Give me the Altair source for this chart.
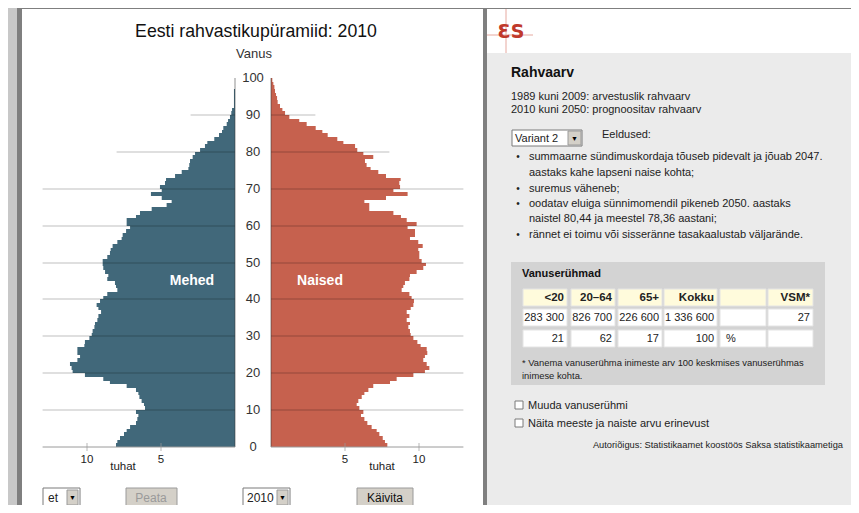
import altair as alt
import pandas as pd

# ---------------- data ----------------
ages = list(range(0, 101))
male = [8.04, 7.95, 7.77, 7.50, 7.32, 7.09, 6.69, 6.60, 6.53, 6.69,
        6.08, 6.15, 6.31, 6.46, 6.53, 6.69, 7.32, 8.45, 8.90, 10.14,
        10.97, 11.04, 11.15, 10.65, 10.47, 10.65, 10.65, 10.18, 10.14, 9.84,
        9.68, 9.62, 9.50, 9.46, 9.30, 9.23, 9.05, 9.23, 9.35, 9.12,
        8.90, 8.63, 7.95, 8.04, 8.11, 8.63, 8.56, 8.78, 8.90, 8.94,
        8.94, 8.63, 8.45, 8.40, 8.27, 7.95, 7.66, 7.59, 7.36, 7.09,
        7.32, 7.32, 6.69, 6.42, 5.63, 4.62, 4.28, 4.95, 5.68, 4.95,
        5.07, 4.73, 4.66, 4.05, 3.60, 3.15, 3.09, 3.04, 2.86, 2.70,
        2.36, 2.03, 1.87, 1.40, 1.08, 0.88, 0.79, 0.56, 0.47, 0.34,
        0.25, 0.20, 0.07, 0.07, 0.07, 0.07, 0.07, 0.0, 0.0, 0.0, 0.0]
female = [7.86, 7.70, 7.55, 7.32, 7.14, 6.80, 6.51, 6.31, 6.08, 6.24,
          5.97, 5.79, 5.90, 6.13, 6.31, 6.58, 6.91, 8.04, 8.49, 9.62,
          10.40, 10.70, 10.52, 10.29, 10.40, 10.56, 10.52, 10.11, 9.89, 9.62,
          9.44, 9.39, 9.28, 9.39, 9.17, 9.35, 9.17, 9.44, 9.62, 9.66,
          9.50, 9.35, 8.83, 8.94, 9.05, 9.35, 9.39, 9.84, 10.29, 10.47,
          10.18, 10.02, 10.02, 9.95, 10.25, 9.95, 9.39, 9.73, 9.73, 9.23,
          9.84, 9.17, 8.78, 8.27, 6.64, 6.64, 6.31, 7.77, 9.23, 8.27,
          8.72, 8.67, 8.76, 7.77, 7.25, 6.73, 6.46, 6.35, 6.91, 6.24,
          5.83, 5.68, 4.89, 4.48, 3.83, 3.47, 3.02, 2.41, 1.91, 1.24,
          0.95, 0.77, 0.61, 0.45, 0.41, 0.34, 0.27, 0.23, 0.16, 0.09, 0.0]

grid_ages = [10, 20, 30, 40, 50, 60, 70, 80, 90]
grid_len = [13, 13, 13, 13, 13, 13, 13, 8, 3]
age_labels = [0, 10, 20, 30, 40, 50, 60, 70, 80, 90, 100]
x_ticks = [5, 10]

title = "Eesti rahvastikupüramiid: 2010"

groups_head = ["<20", "20–64", "65+", "Kokku", "", "VSM*"]
groups_abs = ["283 300", "826 700", "226 600", "1 336 600", "", "27"]
groups_pct = ["21", "62", "17", "100", "%", ""]

# ---------------- frames ----------------
pyr = pd.DataFrame({"age": ages, "top": [a + 1 for a in ages],
                    "male": male, "female": female, "zero": 0})
grid = pd.DataFrame({"age": grid_ages, "len": grid_len, "zero": 0})
alab = pd.DataFrame({"age": age_labels, "lab": [str(a) for a in age_labels]})
ticks = pd.DataFrame({"v": x_ticks, "lab": [str(v) for v in x_ticks]})
axis_rng = pd.DataFrame({"a0": [0], "a1": [100], "zero": [0], "full": [13]})
one = pd.DataFrame({"k": [0]})

O = 8  # page margin offset
FONT = "Liberation Sans"
MALE_C = "#41687a"
FEMALE_C = "#c6614e"

ysc = alt.Scale(domain=[0, 100], range=[447 - O, 78 - O], round=True)
msc = alt.Scale(domain=[0, 13], range=[235 - O, 235 - O - 14.8 * 13])
fsc = alt.Scale(domain=[0, 13], range=[271 - O, 271 - O + 14.8 * 13])


def box(x1, y1, x2, y2, fill, stroke=None, sw=1):
    kw = dict(fill=fill)
    if stroke:
        kw.update(stroke=stroke, strokeWidth=sw)
    else:
        kw.update(strokeWidth=0)
    return alt.Chart(one).mark_rect(**kw).encode(
        x=alt.value(x1 - O), x2=alt.value(x2 - O),
        y=alt.value(y1 - O), y2=alt.value(y2 - O))


def hline(x1, x2, y, color, w=1):
    return alt.Chart(one).mark_rule(color=color, strokeWidth=w).encode(
        x=alt.value(x1 - O), x2=alt.value(x2 - O), y=alt.value(y - O))


def vline(x, y1, y2, color, w=1):
    return alt.Chart(one).mark_rule(color=color, strokeWidth=w).encode(
        x=alt.value(x - O), y=alt.value(y1 - O), y2=alt.value(y2 - O))


def txt(x, y, s, size=12, weight="normal", align="left", color="#222",
        font=FONT):
    return alt.Chart(one).mark_text(
        text=s, fontSize=size, fontWeight=weight, align=align,
        baseline="middle", color=color, font=font).encode(
        x=alt.value(x - O), y=alt.value(y - O))


layers = []

# ---------------- page frame ----------------
layers += [
    box(0, 0, 870, 520, "#c8c8c8"),
    box(17, 4, 870, 9, "#7f7f7f"),
    box(17, 4, 22, 520, "#7f7f7f"),
    box(22, 9, 483, 520, "#ffffff"),
    box(483, 4, 487, 520, "#7f7f7f"),
    box(487, 9, 870, 53, "#ffffff"),
    box(487, 53, 870, 520, "#ebebeb"),
]

# ---------------- pyramid ----------------
male_bars = alt.Chart(pyr).mark_rect(color=MALE_C, strokeWidth=0).encode(
    x=alt.X("male:Q", scale=msc, axis=None),
    x2="zero:Q",
    y=alt.Y("age:Q", scale=ysc, axis=None),
    y2="top:Q")
female_bars = alt.Chart(pyr).mark_rect(color=FEMALE_C, strokeWidth=0).encode(
    x=alt.X("female:Q", scale=fsc, axis=None),
    x2="zero:Q",
    y=alt.Y("age:Q", scale=ysc, axis=None),
    y2="top:Q")

male_grid = alt.Chart(grid).mark_rule(color="#000000", opacity=0.25).encode(
    x=alt.X("len:Q", scale=msc, axis=None), x2="zero:Q",
    y=alt.Y("age:Q", scale=ysc, axis=None))
female_grid = alt.Chart(grid).mark_rule(color="#000000", opacity=0.25).encode(
    x=alt.X("len:Q", scale=fsc, axis=None), x2="zero:Q",
    y=alt.Y("age:Q", scale=ysc, axis=None))

male_vax = alt.Chart(axis_rng).mark_rule(color="#333333", opacity=0.55).encode(
    x=alt.X("zero:Q", scale=msc, axis=None),
    y=alt.Y("a0:Q", scale=ysc, axis=None), y2="a1:Q")
female_vax = alt.Chart(axis_rng).mark_rule(color="#333333", opacity=0.55).encode(
    x=alt.X("zero:Q", scale=fsc, axis=None),
    y=alt.Y("a0:Q", scale=ysc, axis=None), y2="a1:Q")

male_hax = alt.Chart(axis_rng).mark_rule(color="#9a9a9a").encode(
    x=alt.X("full:Q", scale=msc, axis=None), x2="zero:Q",
    y=alt.Y("a0:Q", scale=ysc, axis=None))
female_hax = alt.Chart(axis_rng).mark_rule(color="#9a9a9a").encode(
    x=alt.X("full:Q", scale=fsc, axis=None), x2="zero:Q",
    y=alt.Y("a0:Q", scale=ysc, axis=None))

male_ticks = alt.Chart(ticks).mark_tick(color="#9a9a9a", orient="vertical",
                                        size=8, thickness=1).encode(
    x=alt.X("v:Q", scale=msc, axis=None), y=alt.value(447 - O))
female_ticks = alt.Chart(ticks).mark_tick(color="#9a9a9a", orient="vertical",
                                          size=8, thickness=1).encode(
    x=alt.X("v:Q", scale=fsc, axis=None), y=alt.value(447 - O))

male_tlab = alt.Chart(ticks).mark_text(font=FONT, fontSize=11.5, color="#222",
                                       baseline="middle").encode(
    x=alt.X("v:Q", scale=msc, axis=None), y=alt.value(460 - O), text="lab:N")
female_tlab = alt.Chart(ticks).mark_text(font=FONT, fontSize=11.5, color="#222",
                                         baseline="middle").encode(
    x=alt.X("v:Q", scale=fsc, axis=None), y=alt.value(460 - O), text="lab:N")

age_text = alt.Chart(alab).mark_text(font=FONT, fontSize=13, color="#333",
                                     baseline="middle").encode(
    x=alt.value(253 - O), y=alt.Y("age:Q", scale=ysc, axis=None),
    text="lab:N")

layers += [male_bars, female_bars, male_grid, female_grid, male_vax,
           female_vax, male_hax, female_hax, male_ticks, female_ticks,
           male_tlab, female_tlab, age_text]

layers += [
    txt(256, 32, title, size=17.7, align="center", color="#111"),
    txt(254, 54, "Vanus", size=13, align="center", color="#333"),
    txt(192, 281, "Mehed", size=14, weight="bold", align="center",
        color="#ffffff"),
    txt(320, 281, "Naised", size=14, weight="bold", align="center",
        color="#ffffff"),
    txt(123, 467, "tuhat", size=11.5, align="center"),
    txt(382, 467, "tuhat", size=11.5, align="center"),
]

# bottom controls
layers += [
    box(43, 488, 80, 507, "#ffffff", "#7a7a7a"),
    txt(48, 498, "et", size=12),
    box(67, 490, 78, 505, "#d4d0c8", "#9a9a9a"),
    txt(72.5, 498, "▼", size=7, align="center", color="#000"),
    box(126, 488, 177, 508, "#d4d0c8", "#9a9a9a"),
    txt(151, 498, "Peata", size=12, align="center", color="#9a9a9a"),
    box(243, 488, 290, 507, "#ffffff", "#7a7a7a"),
    txt(247, 498, "2010", size=12),
    box(277, 490, 288, 505, "#d4d0c8", "#9a9a9a"),
    txt(282.5, 498, "▼", size=7, align="center", color="#000"),
    box(357, 488, 413, 508, "#d4d0c8", "#9a9a9a"),
    txt(385, 498, "Käivita", size=12, align="center", color="#111"),
]

# ---------------- right panel ----------------
layers += [
    vline(506, 9, 53, "#e6a9a0"),
    hline(487, 533, 35, "#e6a9a0"),
    txt(511, 32, "ƐS", size=19, weight="bold", align="center",
        color="#c0392b", font="DejaVu Sans"),
    txt(511, 73, "Rahvaarv", size=14, weight="bold", color="#111"),
    txt(511, 97, "1989 kuni 2009: arvestuslik rahvaarv", size=11),
    txt(511, 110, "2010 kuni 2050: prognoositav rahvaarv", size=11),
    box(512, 130, 582, 146, "#ffffff", "#7a7a7a"),
    txt(515, 138.5, "Variant 2", size=11),
    box(568, 131, 581, 145, "#d4d0c8", "#9a9a9a"),
    txt(574.5, 138.5, "▼", size=7, align="center", color="#000"),
    txt(602, 135, "Eeldused:", size=11),
]
bullet_lines = [
    (157, "summaarne sündimuskordaja tõuseb pidevalt ja jõuab 2047.", True),
    (172.5, "aastaks kahe lapseni naise kohta;", False),
    (189, "suremus väheneb;", True),
    (204, "oodatav eluiga sünnimomendil pikeneb 2050. aastaks", True),
    (218.5, "naistel 80,44 ja meestel 78,36 aastani;", False),
    (235, "rännet ei toimu või sisseränne tasakaalustab väljarände.", True),
]
for yy, s, b in bullet_lines:
    layers.append(txt(529, yy, s, size=11))
    if b:
        layers.append(txt(518, yy, "•", size=10, align="center"))

# table box
layers += [
    box(511, 262, 825, 385, "#d3d3d3"),
    txt(522, 274, "Vanuserühmad", size=11, weight="bold", color="#111"),
]
cols = [(523, 567), (571, 615), (618, 662), (664, 717), (720, 766), (768, 813)]
rows = [(289, 306, "#fffbdc", groups_head, "bold", 11.5),
        (309, 326, "#ffffff", groups_abs, "normal", 11),
        (330, 347, "#ffffff", groups_pct, "normal", 11)]
for (y1, y2, fill, vals, wt, fs) in rows:
    for (x1, x2), v in zip(cols, vals):
        layers.append(box(x1, y1, x2, y2, fill, "#e4e4e4"))
        if v == "%":
            layers.append(txt(x1 + 6, (y1 + y2) / 2, v, size=fs, weight=wt))
        elif v:
            layers.append(txt(x2 - 3, (y1 + y2) / 2, v, size=fs, weight=wt,
                              align="right"))
layers += [
    txt(522, 363, "* Vanema vanuserühma inimeste arv 100 keskmises vanuserühmas",
        size=9.4),
    txt(522, 376, "inimese kohta.", size=9.4),
    box(515, 401, 523, 409, "#ffffff", "#7a7a7a"),
    txt(528, 406, "Muuda vanuserühmi", size=11),
    box(515, 419, 523, 427, "#ffffff", "#7a7a7a"),
    txt(528, 424, "Näita meeste ja naiste arvu erinevust", size=11),
    txt(843, 445, "Autoriõigus: Statistikaamet koostöös Saksa statistikaametiga",
        size=9.3, align="right"),
]

chart = alt.layer(*layers).resolve_scale(x="independent").properties(
    width=843, height=497,
    autosize=alt.AutoSizeParams(type="none"),
    padding=0,
).configure_view(strokeWidth=0)

chart.save("out.html", embed_options={"renderer": "svg", "actions": False})
